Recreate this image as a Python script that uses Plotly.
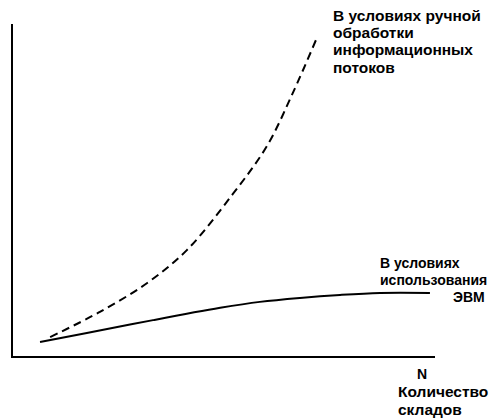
import plotly.graph_objects as go

W, H = 494, 418

# Manual processing (dashed) curve
manual_x = [8.8, 20.6, 31.8, 41.2, 52.1, 60.2, 66.4, 72.0]
manual_y = [5.7, 13.3, 22.0, 31.9, 48.8, 63.3, 79.5, 95.8]

# Computer usage (solid) curve
evm_x = [6.4, 17.5, 33.2, 49.1, 58.5, 68.0, 77.5, 87.0, 98.8]
evm_y = [4.2, 6.9, 10.8, 14.5, 16.3, 17.5, 18.4, 19.0, 19.0]

manual_lines = ["В условиях ручной", "обработки", "информационных", "потоков"]
evm_lines = ["В условиях", "использования", "ЭВМ"]
label_n = "N"
count_lines = ["Количество", "складов"]

FONT = "Liberation Sans, Arial, sans-serif"

fig = go.Figure()
fig.add_trace(go.Scatter(x=manual_x, y=manual_y, mode="lines",
                         line=dict(color="black", width=2, dash="8px,5px", shape="spline"),
                         showlegend=False, hoverinfo="skip"))
fig.add_trace(go.Scatter(x=evm_x, y=evm_y, mode="lines",
                         line=dict(color="black", width=2, shape="spline"),
                         showlegend=False, hoverinfo="skip"))


def px(x):
    return x / W


def py(y):
    return 1 - y / H


def label(text, x, y, size, xanchor="left"):
    return dict(text=text, xref="paper", yref="paper", x=px(x), y=py(y),
                xanchor=xanchor, yanchor="middle", showarrow=False, borderpad=0,
                font=dict(family=FONT, size=size, color="black", weight="bold"))


annotations = []
for i, t in enumerate(manual_lines):
    annotations.append(label(t, 332, 15.0 + 17.4 * i, 15.5))
annotations.append(label(evm_lines[0], 379, 263.0, 14))
annotations.append(label(evm_lines[1], 379, 280.0, 14))
annotations.append(label(evm_lines[2], 486, 297.0, 14, xanchor="right"))
annotations.append(label(label_n, 422, 373.5, 14, xanchor="center"))
annotations.append(label(count_lines[0], 397, 391.5, 15.5))
annotations.append(label(count_lines[1], 397, 409.5, 15.5))

fig.update_layout(
    width=W, height=H,
    margin=dict(l=0, r=0, t=0, b=0),
    paper_bgcolor="white", plot_bgcolor="white",
    xaxis=dict(domain=[px(13), px(435)], range=[0, 100], showgrid=False, zeroline=False,
               showticklabels=False, ticks="", showline=True, linecolor="black", linewidth=2),
    yaxis=dict(domain=[py(356), py(24)], range=[0, 100], showgrid=False, zeroline=False,
               showticklabels=False, ticks="", showline=True, linecolor="black", linewidth=2),
    font=dict(family=FONT, size=14, color="black"),
    annotations=annotations,
)

fig.write_html("out.html", config={"displayModeBar": False},
               post_script="document.body.style.margin='0';document.body.style.overflow='hidden';")
